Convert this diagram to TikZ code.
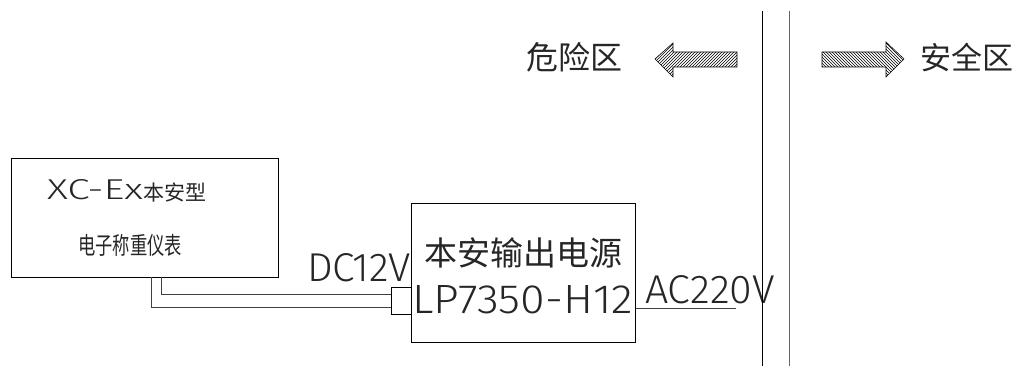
\documentclass[tikz,border=0pt]{standalone}
\usepackage{fontspec}
\usetikzlibrary{patterns}
\setmainfont{Liberation Sans}
\newfontfamily\cadfont{Fira Sans Light}
\newfontfamily\cjk{Noto Sans CJK SC}
\newcommand{\fitt}[3]{\resizebox{#1pt}{#2pt}{\cadfont #3}}
\begin{document}
\begin{tikzpicture}[x=1pt,y=-1pt,
  boxstyle/.style={draw=black, line width=0.8pt, rectangle, inner sep=0pt},
  wire/.style={draw=black!75, line width=0.8pt},
  lbl/.style={inner sep=0pt, outer sep=0pt, text=black!85},
  hatcharrow/.style={draw=black, line width=0.6pt}]
\useasboundingbox (0,0) rectangle (1017,366);
% boxes
\node[boxstyle, minimum width=267pt, minimum height=119pt, anchor=north west] (meter) at (11,158) {};
\node[boxstyle, minimum width=224pt, minimum height=139pt, anchor=north west] (psu) at (411,203) {};
\node[boxstyle, minimum width=20pt, minimum height=27pt, anchor=north west] (term) at (391,287) {};
% texts in meter box
\node[lbl, anchor=base west] (xc) at (47,200) {\fitt{96}{20}{XC-Ex}};
\node[lbl, anchor=west] (bax) at (143,192) {\cjk\fontsize{21pt}{21pt}\selectfont 本安型};
\node[lbl, xscale=0.72] (dzc) at (130,245) {\cjk\fontsize{24pt}{24pt}\selectfont 电子称重仪表};
% psu texts
\node[lbl] (psut) at (523,253) {\cjk\fontsize{33pt}{33pt}\selectfont 本安输出电源};
\node[lbl, anchor=base west] (lp) at (412,313) {\fitt{221}{28}{LP7350-H12}};
\node[lbl, anchor=base west] (dc) at (307,281) {\fitt{104}{28}{DC12V}};
\node[lbl, anchor=base west] (ac) at (645,303) {\fitt{130}{28}{AC220V}};
% wires
\coordinate (w1) at (161,277);
\coordinate (w2) at (151,277);
\coordinate (t1) at (391,294);
\coordinate (t2) at (391,307);
\draw[wire] (w1) |- (t1);
\draw[wire] (w2) |- (t2);
\coordinate (acend) at (736,308);
\draw[wire] (psu.east |- acend) -- (acend);
% separation lines
\coordinate (l1t) at (762,11); \coordinate (l1b) at (762,366);
\coordinate (l2t) at (789,11); \coordinate (l2b) at (789,366);
\draw[line width=1pt, black] (l1t) -- (l1b);
\draw[line width=1pt, black!60] (l2t) -- (l2b);
% zone labels
\node[lbl] (danger) at (574,57) {\cjk\fontsize{32pt}{32pt}\selectfont 危险区};
\node[lbl] (safe) at (967,58) {\cjk\fontsize{31pt}{31pt}\selectfont 安全区};
% arrows
\draw[hatcharrow, pattern=north east lines] (655,59) -- (673,43) -- (673,52) -- (737,52) -- (737,67) -- (673,67) -- (673,77) -- cycle;
\draw[hatcharrow, pattern=north west lines] (904,59) -- (886,42) -- (886,52) -- (822,52) -- (822,67) -- (886,67) -- (886,77) -- cycle;
\end{tikzpicture}
\end{document}
